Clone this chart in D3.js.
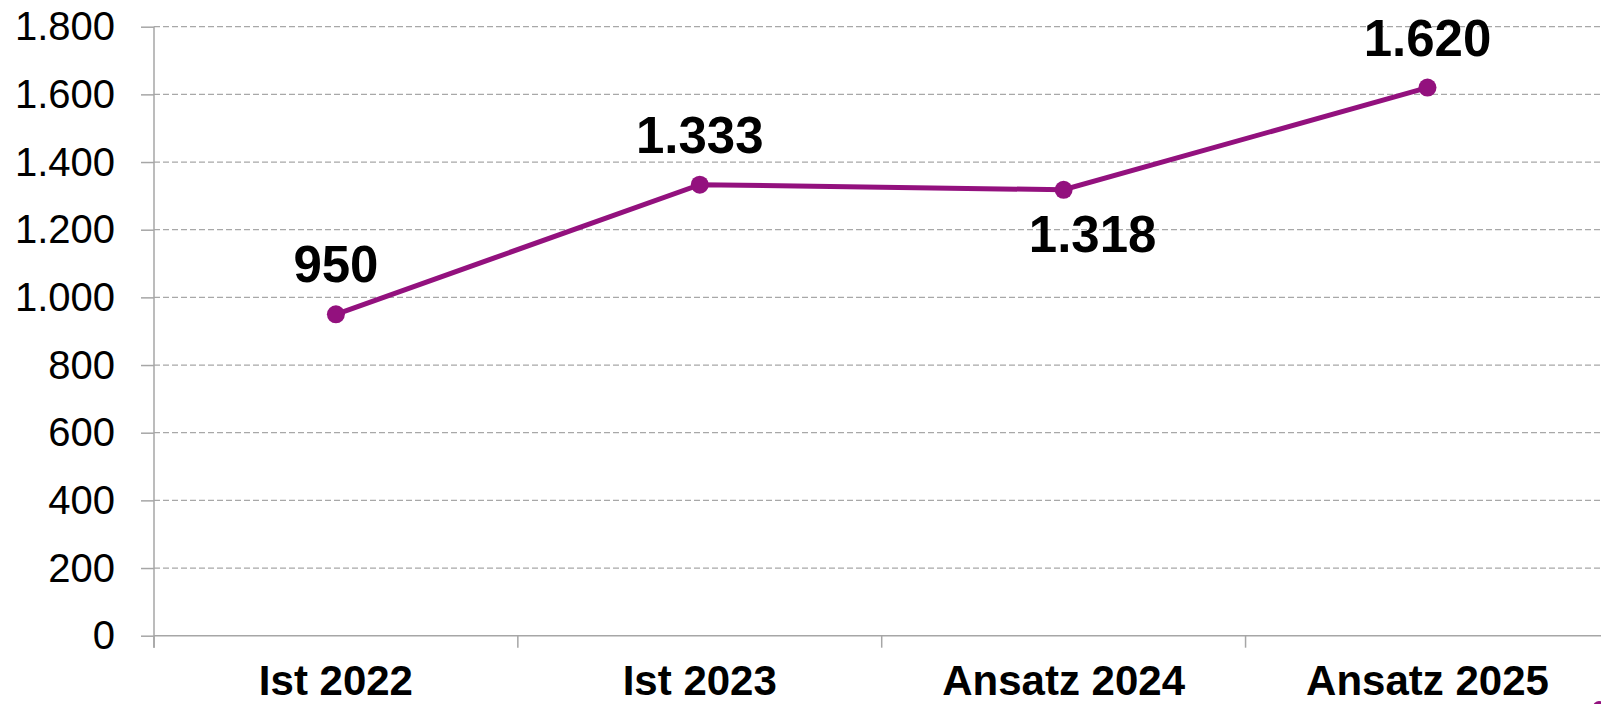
<!DOCTYPE html>
<html>
<head>
<meta charset="utf-8">
<script src="https://cdn.jsdelivr.net/npm/d3@7"></script>
<style>
  html, body { margin: 0; padding: 0; background: #fff; overflow: hidden; }
  svg { display: block; }
  text { font-family: "Liberation Sans", Arial, sans-serif; }
</style>
</head>
<body>
<script>
const categories = ["Ist 2022", "Ist 2023", "Ansatz 2024", "Ansatz 2025"];
const values = [950, 1333, 1318, 1620];
const valueLabels = ["950", "1.333", "1.318", "1.620"];
const labelBelow = [false, false, true, false];
const yTicks = [0, 200, 400, 600, 800, 1000, 1200, 1400, 1600, 1800];

const W = 1601, H = 704;
const svg = d3.select("body").append("svg").attr("width", W).attr("height", H);

const x0 = 154, y0 = 635.7, yTop = 26.7, band = 363.85;
const x = d3.scaleBand().domain(categories).range([x0, x0 + band * categories.length]).padding(0);
const y = d3.scaleLinear().domain([0, 1800]).range([y0, yTop]);
const fmt = v => v >= 1000 ? d3.format(",")(v).replace(/,/g, ".") : String(v);

const axisColor = "#a6a6a6";

// gridlines
svg.append("g").selectAll("line").data(yTicks.filter(d => d > 0)).join("line")
  .attr("x1", x0).attr("x2", W)
  .attr("y1", d => y(d)).attr("y2", d => y(d))
  .attr("stroke", "#a8a8a8").attr("stroke-width", 1.3)
  .attr("stroke-dasharray", "6,3");

// y axis
const yAxis = d3.axisLeft(y).tickValues(yTicks).tickSize(13).tickPadding(26).tickFormat(fmt);
const gy = svg.append("g").attr("transform", `translate(${x0},0)`).call(yAxis);
gy.select(".domain").remove();
gy.selectAll(".tick line").attr("stroke", axisColor).attr("stroke-width", 1.5);
gy.selectAll(".tick text").attr("font-size", 40).attr("fill", "#000")
  .attr("font-family", "'Liberation Sans', Arial, sans-serif").attr("dy", "0.33em");
svg.append("line").attr("x1", x0).attr("x2", x0).attr("y1", yTop).attr("y2", y0 + 12)
  .attr("stroke", axisColor).attr("stroke-width", 1.5);

// x axis
svg.append("line").attr("x1", x0).attr("x2", W).attr("y1", y0).attr("y2", y0)
  .attr("stroke", axisColor).attr("stroke-width", 1.5);
const xTickPos = categories.map(c => x(c)).concat([x(categories[categories.length - 1]) + x.bandwidth()]);
svg.append("g").selectAll("line").data(xTickPos).join("line")
  .attr("x1", d => d).attr("x2", d => d).attr("y1", y0).attr("y2", y0 + 12)
  .attr("stroke", axisColor).attr("stroke-width", 1.5);
svg.append("g").selectAll("text").data(categories).join("text")
  .attr("x", d => x(d) + x.bandwidth() / 2).attr("y", 694.5)
  .attr("text-anchor", "middle").attr("font-size", 42).attr("font-weight", "bold")
  .attr("fill", "#000").text(d => d);

// line
const cx = (d, i) => x(categories[i]) + x.bandwidth() / 2;
const line = d3.line().x((d, i) => cx(d, i)).y(d => y(d));
const lineColor = "#93117e";
svg.append("path").datum(values).attr("d", line)
  .attr("fill", "none").attr("stroke", lineColor).attr("stroke-width", 5);
svg.append("g").selectAll("circle").data(values).join("circle")
  .attr("cx", cx).attr("cy", d => y(d)).attr("r", 9).attr("fill", lineColor);

// value labels
svg.append("g").selectAll("text").data(values).join("text")
  .attr("x", (d, i) => cx(d, i) + (labelBelow[i] ? 29 : 0))
  .attr("y", (d, i) => labelBelow[i] ? y(d) + 62 : y(d) - 32)
  .attr("text-anchor", "middle").attr("font-size", 51).attr("font-weight", "bold")
  .attr("fill", "#000").text((d, i) => valueLabels[i]);

// cropped purple fragment at bottom right edge
svg.append("circle").attr("cx", 1599).attr("cy", 707).attr("r", 6).attr("fill", lineColor);
</script>
</body>
</html>
